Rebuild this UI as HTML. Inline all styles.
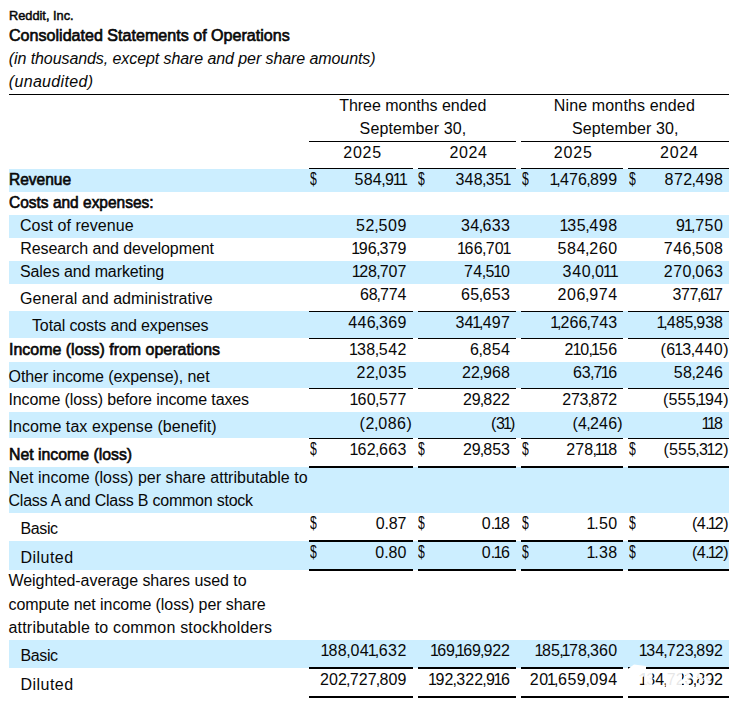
<!DOCTYPE html>
<html><head><meta charset="utf-8"><title>Reddit, Inc. Consolidated Statements of Operations</title>
<style>
html,body{margin:0;padding:0;background:#fff;}
body{width:736px;height:706px;position:relative;overflow:hidden;font-family:"Liberation Sans",sans-serif;color:#080808;}
.t{position:absolute;white-space:nowrap;line-height:1;margin:0;padding:0;}
.b{font-weight:normal;-webkit-text-stroke:0.65px #080808;}
.i{font-style:italic;}
.band{position:absolute;left:9px;width:720px;background:#cceeff;}
.ln{position:absolute;background:#000;}
.o{font-style:normal;margin:0 -1.5px;}
.c{font-style:normal;margin:0 -0.9px;}
</style></head><body>
<div class="band" style="top:169px;height:23px"></div>
<div class="band" style="top:215px;height:23px"></div>
<div class="band" style="top:261px;height:23px"></div>
<div class="band" style="top:311px;height:27px"></div>
<div class="band" style="top:362px;height:26px"></div>
<div class="band" style="top:412px;height:26px"></div>
<div class="band" style="top:467px;height:46px"></div>
<div class="band" style="top:541px;height:29px"></div>
<div class="band" style="top:640px;height:28px"></div>
<div class="ln" style="left:9px;width:720px;top:94px;height:1px"></div>
<div class="ln" style="left:309px;width:207px;top:141px;height:1px"></div>
<div class="ln" style="left:521px;width:208px;top:141px;height:1px"></div>
<div class="ln" style="left:309px;width:104px;top:168px;height:1px"></div>
<div class="ln" style="left:309px;width:104px;top:311px;height:1px"></div>
<div class="ln" style="left:309px;width:104px;top:338px;height:1px"></div>
<div class="ln" style="left:309px;width:104px;top:388px;height:1px"></div>
<div class="ln" style="left:309px;width:104px;top:438px;height:1px"></div>
<div class="ln" style="left:309px;width:104px;top:466px;height:2px"></div>
<div class="ln" style="left:309px;width:104px;top:540px;height:2px"></div>
<div class="ln" style="left:309px;width:104px;top:569px;height:2px"></div>
<div class="ln" style="left:309px;width:104px;top:667px;height:2px"></div>
<div class="ln" style="left:309px;width:104px;top:696px;height:2px"></div>
<div class="ln" style="left:418px;width:98px;top:168px;height:1px"></div>
<div class="ln" style="left:418px;width:98px;top:311px;height:1px"></div>
<div class="ln" style="left:418px;width:98px;top:338px;height:1px"></div>
<div class="ln" style="left:418px;width:98px;top:388px;height:1px"></div>
<div class="ln" style="left:418px;width:98px;top:438px;height:1px"></div>
<div class="ln" style="left:418px;width:98px;top:466px;height:2px"></div>
<div class="ln" style="left:418px;width:98px;top:540px;height:2px"></div>
<div class="ln" style="left:418px;width:98px;top:569px;height:2px"></div>
<div class="ln" style="left:418px;width:98px;top:667px;height:2px"></div>
<div class="ln" style="left:418px;width:98px;top:696px;height:2px"></div>
<div class="ln" style="left:521px;width:102px;top:168px;height:1px"></div>
<div class="ln" style="left:521px;width:102px;top:311px;height:1px"></div>
<div class="ln" style="left:521px;width:102px;top:338px;height:1px"></div>
<div class="ln" style="left:521px;width:102px;top:388px;height:1px"></div>
<div class="ln" style="left:521px;width:102px;top:438px;height:1px"></div>
<div class="ln" style="left:521px;width:102px;top:466px;height:2px"></div>
<div class="ln" style="left:521px;width:102px;top:540px;height:2px"></div>
<div class="ln" style="left:521px;width:102px;top:569px;height:2px"></div>
<div class="ln" style="left:521px;width:102px;top:667px;height:2px"></div>
<div class="ln" style="left:521px;width:102px;top:696px;height:2px"></div>
<div class="ln" style="left:628px;width:101px;top:168px;height:1px"></div>
<div class="ln" style="left:628px;width:101px;top:311px;height:1px"></div>
<div class="ln" style="left:628px;width:101px;top:338px;height:1px"></div>
<div class="ln" style="left:628px;width:101px;top:388px;height:1px"></div>
<div class="ln" style="left:628px;width:101px;top:438px;height:1px"></div>
<div class="ln" style="left:628px;width:101px;top:466px;height:2px"></div>
<div class="ln" style="left:628px;width:101px;top:540px;height:2px"></div>
<div class="ln" style="left:628px;width:101px;top:569px;height:2px"></div>
<div class="ln" style="left:628px;width:101px;top:667px;height:2px"></div>
<div class="ln" style="left:628px;width:101px;top:696px;height:2px"></div>
<div class="t b" style="font-size:13px;top:8.80px;-webkit-text-stroke-width:0.5px;transform:scaleX(0.9823);transform-origin:0 0;left:8.80px;">Reddit, Inc.</div>
<div class="t b" style="font-size:16.5px;top:26.53px;transform:scaleX(0.9749);transform-origin:0 0;left:8.80px;">Consolidated Statements of Operations</div>
<div class="t i" style="font-size:16px;top:51.06px;letter-spacing:-0.083px;left:8.80px;">(in thousands, except share and per share amounts)</div>
<div class="t i" style="font-size:16px;top:74.06px;letter-spacing:0.325px;left:8.80px;">(unaudited)</div>
<div class="t" style="font-size:16px;top:98.46px;letter-spacing:-0.033px;left:339.20px;">Three months ended</div>
<div class="t" style="font-size:16px;top:120.56px;letter-spacing:0.137px;left:359.60px;">September 30,</div>
<div class="t" style="font-size:16px;top:98.46px;letter-spacing:0.140px;left:553.80px;">Nine months ended</div>
<div class="t" style="font-size:16px;top:120.56px;letter-spacing:0.129px;left:572.00px;">September 30,</div>
<div class="t" style="font-size:16px;top:144.86px;letter-spacing:0.800px;left:343.20px;">2025</div>
<div class="t" style="font-size:16px;top:144.86px;letter-spacing:0.635px;left:449.40px;">2024</div>
<div class="t" style="font-size:16px;top:144.86px;letter-spacing:0.800px;left:553.80px;">2025</div>
<div class="t" style="font-size:16px;top:144.86px;letter-spacing:0.800px;left:660.00px;">2024</div>
<div class="t b" style="font-size:16.5px;top:170.73px;transform:scaleX(0.9400);transform-origin:0 0;left:8.50px;">Revenue</div>
<div class="t" style="font-size:16px;top:172.16px;letter-spacing:0.318px;right:329.28px;">584<i class="c">,</i>9<i class="o">1</i><i class="o">1</i></div>
<div class="t" style="font-size:16px;top:172.16px;left:310.10px;transform:scale(0.76,1.1);transform-origin:0 85%;">$</div>
<div class="t" style="font-size:16px;top:172.16px;letter-spacing:0.237px;right:225.86px;">348<i class="c">,</i>35<i class="o">1</i></div>
<div class="t" style="font-size:16px;top:172.16px;left:418.20px;transform:scale(0.76,1.1);transform-origin:0 85%;">$</div>
<div class="t" style="font-size:16px;top:172.16px;letter-spacing:0.193px;right:118.71px;"><i class="o">1</i><i class="c">,</i>476<i class="c">,</i>899</div>
<div class="t" style="font-size:16px;top:172.16px;left:521.70px;transform:scale(0.76,1.1);transform-origin:0 85%;">$</div>
<div class="t" style="font-size:16px;top:172.16px;letter-spacing:0.387px;right:12.61px;">872<i class="c">,</i>498</div>
<div class="t" style="font-size:16px;top:172.16px;left:628.70px;transform:scale(0.76,1.1);transform-origin:0 85%;">$</div>
<div class="t b" style="font-size:16.5px;top:194.03px;transform:scaleX(0.9384);transform-origin:0 0;left:8.50px;">Costs and expenses:</div>
<div class="t" style="font-size:16px;top:218.16px;letter-spacing:0.046px;left:20.00px;">Cost of revenue</div>
<div class="t" style="font-size:16px;top:218.16px;letter-spacing:0.626px;right:328.97px;">52<i class="c">,</i>509</div>
<div class="t" style="font-size:16px;top:218.16px;letter-spacing:0.326px;right:225.77px;">34<i class="c">,</i>633</div>
<div class="t" style="font-size:16px;top:218.16px;letter-spacing:0.520px;right:118.38px;"><i class="o">1</i>35<i class="c">,</i>498</div>
<div class="t" style="font-size:16px;top:218.16px;letter-spacing:0.583px;right:12.42px;">9<i class="o">1</i><i class="c">,</i>750</div>
<div class="t" style="font-size:16px;top:241.36px;letter-spacing:-0.084px;left:20.25px;">Research and development</div>
<div class="t" style="font-size:16px;top:241.36px;letter-spacing:0.087px;right:329.51px;"><i class="o">1</i>96<i class="c">,</i>379</div>
<div class="t" style="font-size:16px;top:241.36px;letter-spacing:0.220px;right:225.88px;"><i class="o">1</i>66<i class="c">,</i>70<i class="o">1</i></div>
<div class="t" style="font-size:16px;top:241.36px;letter-spacing:0.604px;right:118.30px;">584<i class="c">,</i>260</div>
<div class="t" style="font-size:16px;top:241.36px;letter-spacing:0.537px;right:12.46px;">746<i class="c">,</i>508</div>
<div class="t" style="font-size:16px;top:264.06px;letter-spacing:-0.098px;left:20.00px;">Sales and marketing</div>
<div class="t" style="font-size:16px;top:264.06px;letter-spacing:0.004px;right:329.60px;"><i class="o">1</i>28<i class="c">,</i>707</div>
<div class="t" style="font-size:16px;top:264.06px;letter-spacing:0.322px;right:225.78px;">74<i class="c">,</i>5<i class="o">1</i>0</div>
<div class="t" style="font-size:16px;top:264.06px;letter-spacing:0.734px;right:118.17px;">340<i class="c">,</i>0<i class="o">1</i><i class="o">1</i></div>
<div class="t" style="font-size:16px;top:264.06px;letter-spacing:0.537px;right:12.46px;">270<i class="c">,</i>063</div>
<div class="t" style="font-size:16px;top:290.56px;letter-spacing:0.055px;left:20.00px;">General and administrative</div>
<div class="t" style="font-size:16px;top:287.46px;letter-spacing:-0.154px;right:329.75px;">68<i class="c">,</i>774</div>
<div class="t" style="font-size:16px;top:287.46px;letter-spacing:0.326px;right:225.77px;">65<i class="c">,</i>653</div>
<div class="t" style="font-size:16px;top:287.46px;letter-spacing:0.604px;right:118.30px;">206<i class="c">,</i>974</div>
<div class="t" style="font-size:16px;top:287.46px;letter-spacing:-0.416px;right:13.42px;">377<i class="c">,</i>6<i class="o">1</i>7</div>
<div class="t" style="font-size:16px;top:317.86px;letter-spacing:-0.134px;left:32.00px;">Total costs and expenses</div>
<div class="t" style="font-size:16px;top:314.96px;letter-spacing:0.354px;right:329.25px;">446<i class="c">,</i>369</div>
<div class="t" style="font-size:16px;top:314.96px;letter-spacing:0.237px;right:225.86px;">34<i class="o">1</i><i class="c">,</i>497</div>
<div class="t" style="font-size:16px;top:314.96px;letter-spacing:0.080px;right:118.82px;"><i class="o">1</i><i class="c">,</i>266<i class="c">,</i>743</div>
<div class="t" style="font-size:16px;top:314.96px;letter-spacing:0.030px;right:12.97px;"><i class="o">1</i><i class="c">,</i>485<i class="c">,</i>938</div>
<div class="t b" style="font-size:16.5px;top:341.03px;transform:scaleX(0.9672);transform-origin:0 0;left:8.50px;">Income (loss) from operations</div>
<div class="t" style="font-size:16px;top:342.46px;letter-spacing:0.470px;right:329.13px;"><i class="o">1</i>38<i class="c">,</i>542</div>
<div class="t" style="font-size:16px;top:342.46px;letter-spacing:0.380px;right:225.72px;">6<i class="c">,</i>854</div>
<div class="t" style="font-size:16px;top:342.46px;letter-spacing:0.411px;right:118.49px;">2<i class="o">1</i>0<i class="c">,</i><i class="o">1</i>56</div>
<div class="t" style="font-size:16px;top:342.46px;letter-spacing:0.544px;right:6.96px;">(6<i class="o">1</i>3<i class="c">,</i>440)</div>
<div class="t" style="font-size:16px;top:369.46px;letter-spacing:-0.064px;left:8.50px;">Other income (expense), net</div>
<div class="t" style="font-size:16px;top:364.96px;letter-spacing:0.546px;right:329.05px;">22<i class="c">,</i>035</div>
<div class="t" style="font-size:16px;top:364.96px;letter-spacing:0.146px;right:225.95px;">22<i class="c">,</i>968</div>
<div class="t" style="font-size:16px;top:364.96px;letter-spacing:-0.010px;right:118.91px;">63<i class="c">,</i>7<i class="o">1</i>6</div>
<div class="t" style="font-size:16px;top:364.96px;letter-spacing:0.442px;right:12.56px;">58<i class="c">,</i>246</div>
<div class="t" style="font-size:16px;top:391.96px;letter-spacing:-0.123px;left:8.50px;">Income (loss) before income taxes</div>
<div class="t" style="font-size:16px;top:391.96px;letter-spacing:0.370px;right:329.23px;"><i class="o">1</i>60<i class="c">,</i>577</div>
<div class="t" style="font-size:16px;top:391.96px;letter-spacing:-0.034px;right:226.13px;">29<i class="c">,</i>822</div>
<div class="t" style="font-size:16px;top:391.96px;letter-spacing:-0.195px;right:119.09px;">273<i class="c">,</i>872</div>
<div class="t" style="font-size:16px;top:391.96px;letter-spacing:0.233px;right:7.27px;">(555<i class="c">,</i><i class="o">1</i>94)</div>
<div class="t" style="font-size:16px;top:418.86px;letter-spacing:0.065px;left:8.50px;">Income tax expense (benefit)</div>
<div class="t" style="font-size:16px;top:415.96px;letter-spacing:0.560px;right:323.54px;">(2<i class="c">,</i>086)</div>
<div class="t" style="font-size:16px;top:415.96px;letter-spacing:-0.323px;right:220.92px;">(3<i class="o">1</i>)</div>
<div class="t" style="font-size:16px;top:415.96px;letter-spacing:0.210px;right:113.19px;">(4<i class="c">,</i>246)</div>
<div class="t" style="font-size:16px;top:415.96px;letter-spacing:-0.359px;right:13.36px;"><i class="o">1</i><i class="o">1</i>8</div>
<div class="t b" style="font-size:16.5px;top:446.43px;transform:scaleX(0.9589);transform-origin:0 0;left:8.50px;">Net income (loss)</div>
<div class="t" style="font-size:16px;top:442.46px;letter-spacing:0.370px;right:329.23px;"><i class="o">1</i>62<i class="c">,</i>663</div>
<div class="t" style="font-size:16px;top:442.46px;left:310.10px;transform:scale(0.76,1.1);transform-origin:0 85%;">$</div>
<div class="t" style="font-size:16px;top:442.46px;letter-spacing:-0.034px;right:226.13px;">29<i class="c">,</i>853</div>
<div class="t" style="font-size:16px;top:442.46px;left:418.20px;transform:scale(0.76,1.1);transform-origin:0 85%;">$</div>
<div class="t" style="font-size:16px;top:442.46px;letter-spacing:0.118px;right:118.78px;">278<i class="c">,</i><i class="o">1</i><i class="o">1</i>8</div>
<div class="t" style="font-size:16px;top:442.46px;left:521.70px;transform:scale(0.76,1.1);transform-origin:0 85%;">$</div>
<div class="t" style="font-size:16px;top:442.46px;letter-spacing:0.144px;right:7.36px;">(555<i class="c">,</i>3<i class="o">1</i>2)</div>
<div class="t" style="font-size:16px;top:442.46px;left:628.70px;transform:scale(0.76,1.1);transform-origin:0 85%;">$</div>
<div class="t" style="font-size:16px;top:470.46px;letter-spacing:0.028px;left:8.50px;">Net income (loss) per share attributable to</div>
<div class="t" style="font-size:16px;top:493.36px;letter-spacing:-0.228px;left:8.50px;">Class A and Class B common stock</div>
<div class="t" style="font-size:16px;top:520.86px;letter-spacing:-0.381px;left:20.50px;">Basic</div>
<div class="t" style="font-size:16px;top:515.76px;letter-spacing:-0.180px;right:329.78px;">0.87</div>
<div class="t" style="font-size:16px;top:515.76px;left:310.10px;transform:scale(0.76,1.1);transform-origin:0 85%;">$</div>
<div class="t" style="font-size:16px;top:515.76px;letter-spacing:-0.019px;right:226.12px;">0.<i class="o">1</i>8</div>
<div class="t" style="font-size:16px;top:515.76px;left:418.20px;transform:scale(0.76,1.1);transform-origin:0 85%;">$</div>
<div class="t" style="font-size:16px;top:515.76px;letter-spacing:0.315px;right:118.59px;"><i class="o">1</i>.50</div>
<div class="t" style="font-size:16px;top:515.76px;left:521.70px;transform:scale(0.76,1.1);transform-origin:0 85%;">$</div>
<div class="t" style="font-size:16px;top:515.76px;letter-spacing:-0.442px;right:7.94px;">(4.<i class="o">1</i>2)</div>
<div class="t" style="font-size:16px;top:515.76px;left:628.70px;transform:scale(0.76,1.1);transform-origin:0 85%;">$</div>
<div class="t" style="font-size:16px;top:549.96px;letter-spacing:0.465px;left:20.50px;">Diluted</div>
<div class="t" style="font-size:16px;top:544.96px;letter-spacing:-0.014px;right:329.61px;">0.80</div>
<div class="t" style="font-size:16px;top:544.96px;left:310.10px;transform:scale(0.76,1.1);transform-origin:0 85%;">$</div>
<div class="t" style="font-size:16px;top:544.96px;letter-spacing:-0.019px;right:226.12px;">0.<i class="o">1</i>6</div>
<div class="t" style="font-size:16px;top:544.96px;left:418.20px;transform:scale(0.76,1.1);transform-origin:0 85%;">$</div>
<div class="t" style="font-size:16px;top:544.96px;letter-spacing:0.315px;right:118.59px;"><i class="o">1</i>.38</div>
<div class="t" style="font-size:16px;top:544.96px;left:521.70px;transform:scale(0.76,1.1);transform-origin:0 85%;">$</div>
<div class="t" style="font-size:16px;top:544.96px;letter-spacing:-0.442px;right:7.94px;">(4.<i class="o">1</i>2)</div>
<div class="t" style="font-size:16px;top:544.96px;left:628.70px;transform:scale(0.76,1.1);transform-origin:0 85%;">$</div>
<div class="t" style="font-size:16px;top:573.26px;letter-spacing:-0.059px;left:8.50px;">Weighted-average shares used to</div>
<div class="t" style="font-size:16px;top:596.66px;letter-spacing:-0.076px;left:8.50px;">compute net income (loss) per share</div>
<div class="t" style="font-size:16px;top:619.86px;letter-spacing:0.194px;left:8.50px;">attributable to common stockholders</div>
<div class="t" style="font-size:16px;top:647.66px;letter-spacing:-0.381px;left:20.50px;">Basic</div>
<div class="t" style="font-size:16px;top:642.96px;letter-spacing:0.485px;right:329.12px;"><i class="o">1</i>88<i class="c">,</i>04<i class="o">1</i><i class="c">,</i>632</div>
<div class="t" style="font-size:16px;top:642.96px;letter-spacing:-0.105px;right:226.21px;"><i class="o">1</i>69<i class="c">,</i><i class="o">1</i>69<i class="c">,</i>922</div>
<div class="t" style="font-size:16px;top:642.96px;letter-spacing:0.176px;right:118.72px;"><i class="o">1</i>85<i class="c">,</i><i class="o">1</i>78<i class="c">,</i>360</div>
<div class="t" style="font-size:16px;top:642.96px;letter-spacing:0.022px;right:12.98px;"><i class="o">1</i>34<i class="c">,</i>723<i class="c">,</i>892</div>
<div class="t" style="font-size:16px;top:676.76px;letter-spacing:0.465px;left:20.50px;">Diluted</div>
<div class="t" style="font-size:16px;top:672.46px;letter-spacing:0.095px;right:329.51px;">202<i class="c">,</i>727<i class="c">,</i>809</div>
<div class="t" style="font-size:16px;top:672.46px;letter-spacing:0.093px;right:226.01px;"><i class="o">1</i>92<i class="c">,</i>322<i class="c">,</i>9<i class="o">1</i>6</div>
<div class="t" style="font-size:16px;top:672.46px;letter-spacing:0.488px;right:118.41px;">20<i class="o">1</i><i class="c">,</i>659<i class="c">,</i>094</div>
<div class="t" style="font-size:16px;top:672.46px;letter-spacing:0.022px;right:12.98px;"><i class="o">1</i>34<i class="c">,</i>723<i class="c">,</i>892</div>
<svg style="position:absolute;left:620px;top:660px" width="110" height="40" viewBox="620 660 110 40"><g fill="#fff" stroke="none"><path d="M627 669.5 L634 664.5 L646 666 L646 669.5 Z"/><path d="M638.5 672 L644 672 L644 676.5 L640.5 677.5 Z" opacity="0.9"/><rect x="644.2" y="671.5" width="8.2" height="16" rx="2" opacity="0.93"/><rect x="665.6" y="671.5" width="16.4" height="16" rx="2" opacity="0.9"/><path d="M683.5 672 L688.5 672 L693 678 L688 679 Z M684 682 L689.5 680.5 L688.5 687 L684 687 Z" opacity="0.92"/><path d="M695.5 675 L699 672.5 L704 680.5 L701 682 Z M696 683.5 L699.5 682.5 L700.5 687 L697 687 Z" opacity="0.92"/><path d="M704.5 676.5 L709 675.5 L710.5 680.5 L707 687 L704.5 686 Z" opacity="0.92"/></g></svg>
</body></html>
